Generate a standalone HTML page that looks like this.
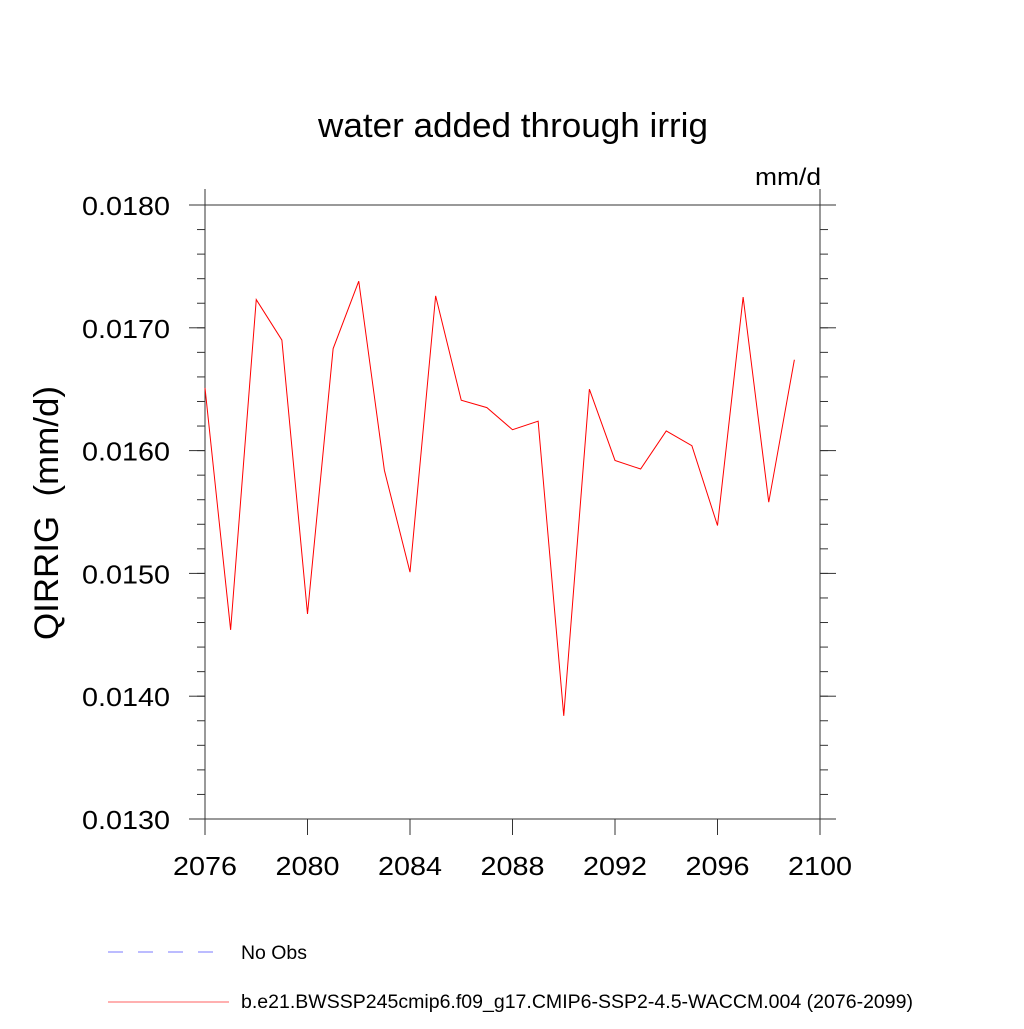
<!DOCTYPE html>
<html><head><meta charset="utf-8"><style>
body{margin:0;background:#fff}
svg text{font-family:"Liberation Sans",sans-serif;fill:#000}
</style></head><body>
<svg id="chart" width="1024" height="1024" xmlns="http://www.w3.org/2000/svg">
<text x="318" y="137" font-size="34" textLength="390" lengthAdjust="spacingAndGlyphs">water added through irrig</text>
<text x="755" y="185" font-size="24" textLength="66" lengthAdjust="spacingAndGlyphs">mm/d</text>
<text transform="translate(58,640) rotate(-90)" font-size="34" textLength="254" lengthAdjust="spacingAndGlyphs" xml:space="preserve">QIRRIG  (mm/d)</text>
<g id="axes"></g>
<polyline id="series" fill="none" stroke="#ff0000" stroke-width="1"/>
<g>
<line x1="108" y1="952" x2="216" y2="952" stroke="#7a7aff" stroke-width="1" stroke-dasharray="15,15"/>
<text x="241" y="959" font-size="19" textLength="66" lengthAdjust="spacingAndGlyphs">No Obs</text>
<line x1="108" y1="1002" x2="229" y2="1002" stroke="#ff6060" stroke-width="1"/>
<text x="241" y="1008" font-size="19" textLength="672" lengthAdjust="spacingAndGlyphs">b.e21.BWSSP245cmip6.f09_g17.CMIP6-SSP2-4.5-WACCM.004 (2076-2099)</text>
</g>
</svg>
<script>
const years=[2076,2077,2078,2079,2080,2081,2082,2083,2084,2085,2086,2087,2088,2089,2090,2091,2092,2093,2094,2095,2096,2097,2098,2099];
const values=[0.01651,0.01454,0.01723,0.01690,0.01467,0.01683,0.01738,0.01584,0.01501,0.01726,0.01641,0.01635,0.01617,0.01624,0.01384,0.01650,0.01592,0.01585,0.01616,0.01604,0.01539,0.01725,0.01558,0.01674];
const xTicks=[2076,2080,2084,2088,2092,2096,2100];
const yTicks=["0.0130","0.0140","0.0150","0.0160","0.0170","0.0180"];
const X0=205,X1=820,Y0=819,Y1=205;
const xs=v=>X0+(v-2076)/(2100-2076)*(X1-X0);
const ys=v=>Y0-(v-0.013)/(0.018-0.013)*(Y0-Y1);
const NS="http://www.w3.org/2000/svg";
const g=document.getElementById('axes');
function ln(x1,y1,x2,y2,name){const l=document.createElementNS(NS,'line');
l.setAttribute('x1',x1);l.setAttribute('y1',y1);l.setAttribute('x2',x2);l.setAttribute('y2',y2);
l.setAttribute('stroke','#333');l.setAttribute('stroke-width','1');


g.appendChild(l);}
const r=document.createElementNS(NS,'rect');
r.setAttribute('x',X0);r.setAttribute('y',Y1);r.setAttribute('width',X1-X0);r.setAttribute('height',Y0-Y1);
r.setAttribute('fill','none');r.setAttribute('stroke','#333');


g.appendChild(r);
ln(X0,Y1,X0,Y1-16,'x-tick-top');ln(X1,Y1,X1,Y1-16,'x-tick-top');
xTicks.forEach(t=>{const x=xs(t);ln(x,Y0,x,Y0+16,'x-tick');
const tx=document.createElementNS(NS,'text');tx.setAttribute('x',x-32);tx.setAttribute('y',875);
tx.setAttribute('font-size','26');tx.setAttribute('textLength','64');tx.setAttribute('lengthAdjust','spacingAndGlyphs');tx.textContent=t;


g.appendChild(tx);});
yTicks.forEach(t=>{const y=ys(+t);ln(X0-16,y,X0,y,'y-tick');ln(X1,y,X1+16,y,'y-tick-right');
const tx=document.createElementNS(NS,'text');tx.setAttribute('x',82);tx.setAttribute('y',y+10);
tx.setAttribute('font-size','26');tx.setAttribute('textLength','88');tx.setAttribute('lengthAdjust','spacingAndGlyphs');tx.textContent=t;


g.appendChild(tx);});
for(let v=0.013;v<0.01800001;v+=0.0002){const y=ys(v);ln(X0-8,y,X0,y,'y-minor-tick');ln(X1,y,X1+8,y,'y-minor-tick-right');}
document.getElementById('series').setAttribute('points',years.map((yr,i)=>xs(yr)+','+ys(values[i])).join(' '));
</script>
</body></html>
